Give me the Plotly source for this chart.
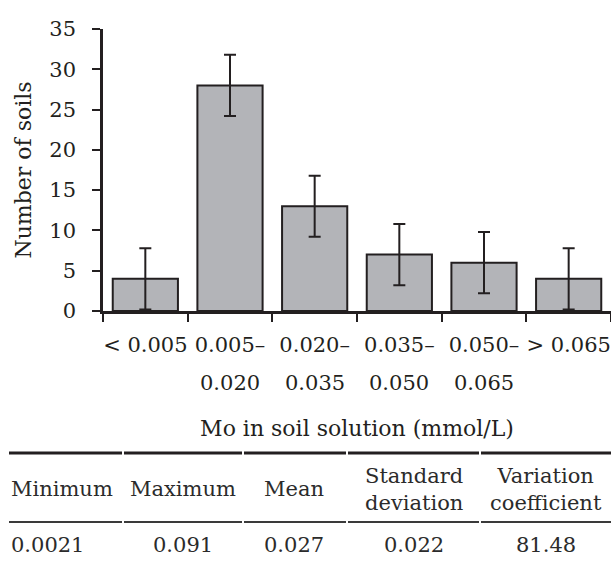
import plotly.graph_objects as go

W, H = 611, 561
INK = "#231f20"
FONT = "DejaVu Serif"

# ---- data ----
cat_line1 = ["< 0.005", "0.005–", "0.020–", "0.035–", "0.050–", "> 0.065"]
cat_line2 = ["", "0.020", "0.035", "0.050", "0.065", ""]
counts = [4, 28, 13, 7, 6, 4]
errors = [3.8, 3.8, 3.8, 3.8, 3.8, 3.8]
y_ticks = [0, 5, 10, 15, 20, 25, 30, 35]
x_title = "Mo in soil solution (mmol/L)"
y_title = "Number of soils"

stat_headers = ["Minimum", "Maximum", "Mean", "Standard<br>deviation", "Variation<br>coefficient"]
stat_values = ["0.0021", "0.091", "0.027", "0.022", "81.48"]

# ---- layout helpers (pixel -> paper, margins are zero) ----
def px(x):
    return x / W

def py(y):
    return 1 - y / H

PLOT_L, PLOT_R, PLOT_T, PLOT_B = 103, 611, 29, 311

fig = go.Figure()
fig.add_trace(go.Bar(
    x=cat_line1, y=counts,
    marker=dict(color="#b3b4b8", line=dict(color=INK, width=2)),
    error_y=dict(type="data", array=errors, visible=True, color=INK, thickness=2, width=6),
    width=0.77,
    showlegend=False,
))

annotations = []
# second line of category labels
for c, t in zip(cat_line1, cat_line2):
    if t:
        annotations.append(dict(x=c, xref="x", y=py(383), yref="paper", text=t,
                                showarrow=False, xanchor="center", yanchor="middle",
                                font=dict(family=FONT, size=21, color=INK)))

# table
col_x = [9, 183, 294, 414, 546]
col_anchor = ["left", "center", "center", "center", "center"]
for x, a, h, v in zip(col_x, col_anchor, stat_headers, stat_values):
    annotations.append(dict(x=px(x), xref="paper", y=py(489), yref="paper", text=h,
                            showarrow=False, xanchor=a, yanchor="middle", align="center",
                            font=dict(family=FONT, size=21, color="#2b2b2b")))
    annotations.append(dict(x=px(x), xref="paper", y=py(545), yref="paper", text=v,
                            showarrow=False, xanchor=a, yanchor="middle",
                            font=dict(family=FONT, size=21, color="#2b2b2b")))

shapes = []
segs = [(9, 122), (124, 242), (244, 346), (348, 479), (481, 611)]
for (a, b) in segs:
    shapes.append(dict(type="line", xref="paper", yref="paper", x0=px(a), x1=px(b),
                       y0=py(453), y1=py(453), line=dict(color=INK, width=3)))
    shapes.append(dict(type="line", xref="paper", yref="paper", x0=px(a), x1=px(b),
                       y0=py(522), y1=py(522), line=dict(color="#3a3a3a", width=1.8)))

fig.update_layout(
    width=W, height=H,
    margin=dict(l=0, r=0, t=0, b=0),
    paper_bgcolor="white", plot_bgcolor="white",
    font=dict(family=FONT, color=INK),
    bargap=0.23,
    xaxis=dict(
        domain=[px(PLOT_L), px(PLOT_R)],
        type="category", range=[-0.5, 5.5],
        automargin=False,
        showline=True, linecolor=INK, linewidth=2.5,
        ticks="outside", tickson="boundaries", ticklen=8, tickwidth=2, tickcolor=INK,
        tickangle=0,
        tickfont=dict(family=FONT, size=21, color=INK),
        ticklabelstandoff=13,
        showgrid=False, zeroline=False,
        title=dict(text=x_title, font=dict(family=FONT, size=22, color=INK), standoff=65),
    ),
    yaxis=dict(
        domain=[py(PLOT_B), py(PLOT_T)],
        range=[0, 35], tickvals=y_ticks,
        automargin=False,
        showline=True, linecolor=INK, linewidth=2.5,
        ticks="outside", ticklen=8, tickwidth=2, tickcolor=INK,
        tickfont=dict(family=FONT, size=21, color=INK),
        ticklabelstandoff=12,
        showgrid=False, zeroline=False,
        title=dict(text=y_title, font=dict(family=FONT, size=22, color=INK), standoff=12),
    ),
    annotations=annotations,
    shapes=shapes,
)

fig.write_html("out.html")
